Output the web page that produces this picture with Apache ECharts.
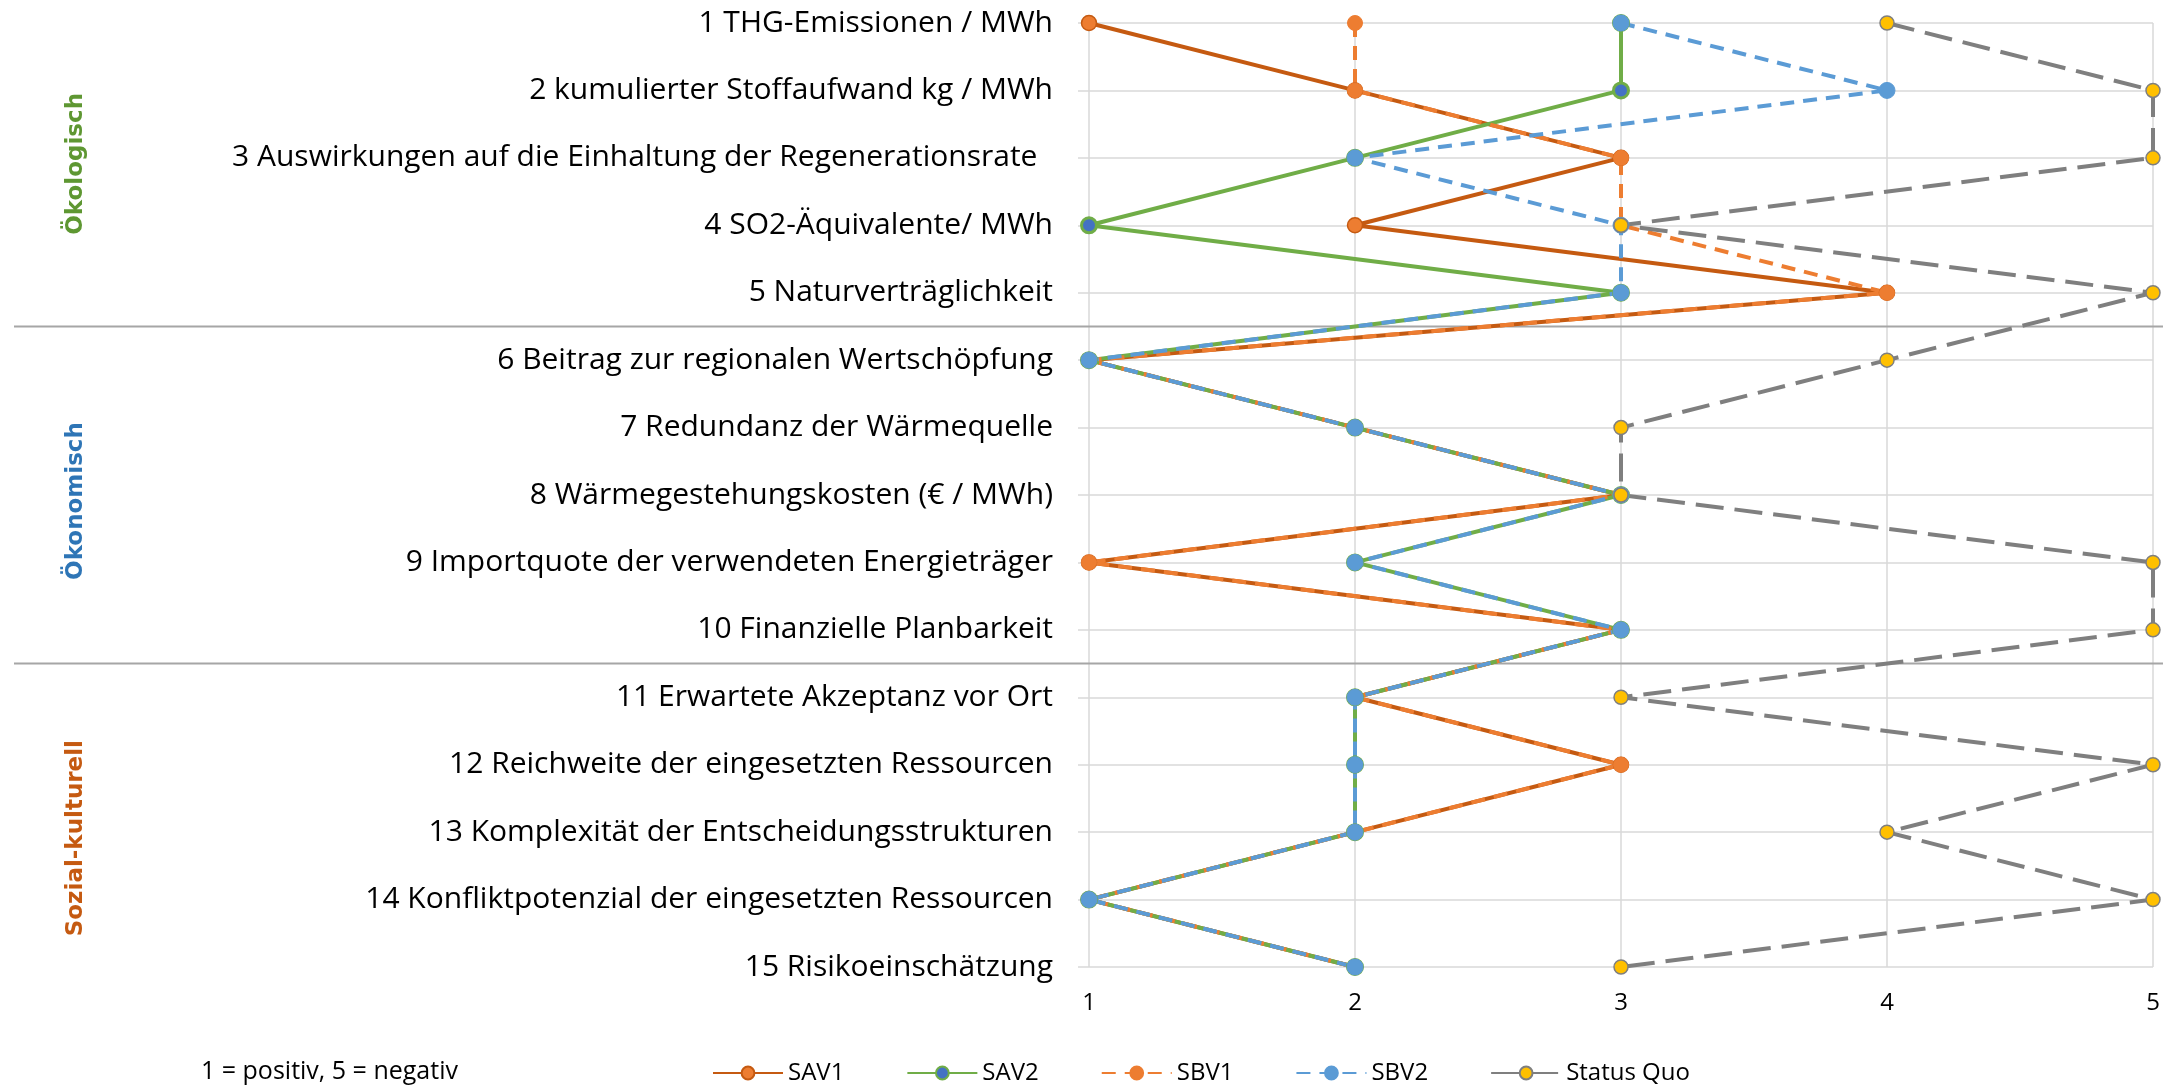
<!DOCTYPE html>
<html>
<head>
<meta charset="utf-8">
<script src="https://cdn.jsdelivr.net/npm/echarts@6/dist/echarts.min.js"></script>
<style>
  html, body { margin: 0; padding: 0; background: #fff; }
  #chart { width: 2182px; height: 1086px; }
</style>
</head>
<body>
<div id="chart"></div>
<script>
const categories = [
  "1 THG-Emissionen / MWh",
  "2 kumulierter Stoffaufwand kg / MWh",
  "3 Auswirkungen auf die Einhaltung der Regenerationsrate  ",
  "4 SO2-Äquivalente/ MWh",
  "5 Naturverträglichkeit",
  "6 Beitrag zur regionalen Wertschöpfung",
  "7 Redundanz der Wärmequelle",
  "8 Wärmegestehungskosten (€ / MWh)",
  "9 Importquote der verwendeten Energieträger",
  "10 Finanzielle Planbarkeit",
  "11 Erwartete Akzeptanz vor Ort",
  "12 Reichweite der eingesetzten Ressourcen",
  "13 Komplexität der Entscheidungsstrukturen",
  "14 Konfliktpotenzial der eingesetzten Ressourcen",
  "15 Risikoeinschätzung"
];
const xTicks = [1, 2, 3, 4, 5];
const SAV1 = [1, 2, 3, 2, 4, 1, 2, 3, 1, 3, 2, 3, 2, 1, 2];
const SAV2 = [3, 3, 2, 1, 3, 1, 2, 3, 2, 3, 2, 2, 2, 1, 2];
const SBV1 = [2, 2, 3, 3, 4, 1, 2, 3, 1, 3, 2, 3, 2, 1, 2];
const SBV2 = [3, 4, 2, 3, 3, 1, 2, 3, 2, 3, 2, 2, 2, 1, 2];
const StatusQuo = [4, 5, 5, 3, 5, 4, 3, 3, 5, 5, 3, 5, 4, 5, 3];
const groups = [
  { name: "Ökologisch", first: 0, last: 4, color: "#5E9732" },
  { name: "Ökonomisch", first: 5, last: 9, color: "#2E75B6" },
  { name: "Sozial-kulturell", first: 10, last: 14, color: "#C55A11" }
];
const note = "1 = positiv, 5 = negativ";

const FONT = "'Open Sans', 'Noto Sans', sans-serif";
const chart = echarts.init(document.getElementById('chart'), null, { renderer: 'canvas' });

function pairs(vals) { return vals.map((v, i) => [v, categories[i]]); }

function lineSeries(name, vals, lineColor, lineType, lineWidth, fill, border, borderW, size) {
  return {
    name: name,
    type: 'line',
    data: pairs(vals),
    symbol: 'circle',
    symbolSize: size,
    lineStyle: { color: lineColor, type: lineType, width: lineWidth, cap: 'butt' },
    itemStyle: { color: fill, borderColor: border, borderWidth: borderW },
    emphasis: { disabled: true },
    animation: false,
    z: 3
  };
}

const option = {
  backgroundColor: '#ffffff',
  animation: false,
  title: {
    text: note,
    left: 196,
    top: 1054,
    textStyle: { fontFamily: FONT, fontSize: 25, fontWeight: 'normal', color: '#000' }
  },
  legend: {
    left: 707,
    top: 1056,
    itemWidth: 70,
    itemHeight: 16,
    itemGap: 62,
    textStyle: { fontFamily: FONT, fontSize: 24, color: '#000' },
    data: ['SAV1', 'SAV2', 'SBV1', 'SBV2', 'Status Quo']
  },
  grid: { left: 1089, right: 29, top: 23, bottom: 119, containLabel: false },
  xAxis: {
    type: 'value',
    min: xTicks[0],
    max: xTicks[xTicks.length - 1],
    interval: 1,
    axisLine: { show: false },
    axisTick: { show: false },
    axisLabel: { fontFamily: FONT, fontSize: 24, color: '#000', margin: 24 },
    splitLine: { show: true, lineStyle: { color: '#D9D9D9', width: 1.5 } }
  },
  yAxis: {
    type: 'category',
    data: categories,
    inverse: true,
    boundaryGap: false,
    axisLine: { show: false },
    axisTick: { show: true, length: 11, lineStyle: { color: '#D9D9D9', width: 1.5 } },
    axisLabel: { fontFamily: FONT, fontSize: 30, color: '#000', margin: 36 },
    splitLine: { show: true, lineStyle: { color: '#D9D9D9', width: 1.5 } }
  },
  series: [
    lineSeries('SAV1', SAV1, '#C55A11', 'solid', 4, '#ED7D31', '#C55A11', 1.5, 15),
    lineSeries('SAV2', SAV2, '#70AD47', 'solid', 4, '#4472C4', '#70AD47', 3, 15),
    lineSeries('SBV1', SBV1, '#ED7D31', [14, 9], 4, '#ED7D31', '#ED7D31', 1, 15),
    lineSeries('SBV2', SBV2, '#5B9BD5', [14, 9], 4, '#5B9BD5', '#5B9BD5', 1, 16),
    lineSeries('Status Quo', StatusQuo, '#7F7F7F', [28, 11], 4, '#FFC000', '#7F7F7F', 1.5, 14)
  ]
};
chart.setOption(option);

function addDecorations() {
  const rowY = i => chart.convertToPixel({ yAxisIndex: 0 }, categories[i]);
  const xRight = chart.convertToPixel({ xAxisIndex: 0 }, xTicks[xTicks.length - 1]);
  const elements = [];
  for (let g = 0; g < groups.length - 1; g++) {
    const y = (rowY(groups[g].last) + rowY(groups[g + 1].first)) / 2;
    elements.push({
      type: 'line', silent: true, z: 1,
      shape: { x1: 14, y1: y, x2: xRight + 10, y2: y },
      style: { stroke: '#A6A6A6', lineWidth: 2 }
    });
  }
  groups.forEach(g => {
    const yc = (rowY(g.first) + rowY(g.last)) / 2 + 6;
    elements.push({
      type: 'text', silent: true, z: 2,
      x: 76, y: yc, rotation: Math.PI / 2,
      style: {
        text: g.name, fill: g.color,
        font: "bold 23px 'DejaVu Sans', Verdana, sans-serif",
        align: 'center', verticalAlign: 'middle'
      }
    });
  });
  chart.setOption({ graphic: elements });
}
addDecorations();
</script>
</body>
</html>
